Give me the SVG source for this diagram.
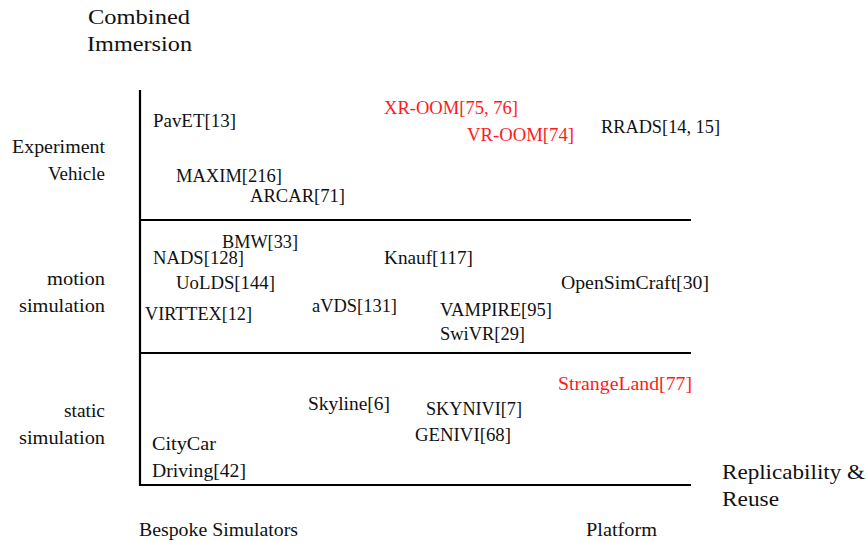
<svg xmlns="http://www.w3.org/2000/svg" width="867" height="542" viewBox="0 0 867 542">
<style>
text{font-family:"Liberation Serif","DejaVu Serif",serif;font-size:18px;fill:#111}
.r{fill:#ff1a1a}
.big{font-size:21px}
.ax{stroke:#000;stroke-width:2.2;fill:none}
.e{text-anchor:end}
</style>
<rect width="867" height="542" fill="#fff"/>
<g id="axes">
<line class="ax" x1="140" y1="90" x2="140" y2="486"/>
<line class="ax" x1="139" y1="220" x2="691" y2="220"/>
<line class="ax" x1="139" y1="353" x2="691" y2="353"/>
<line class="ax" x1="139" y1="485" x2="691" y2="485"/>
</g>
<g id="axis-labels">
<text class="big" x="88" y="24" textLength="102" lengthAdjust="spacingAndGlyphs">Combined</text>
<text class="big" x="87" y="51" textLength="105" lengthAdjust="spacingAndGlyphs">Immersion</text>
<text class="big" x="722" y="479" textLength="143" lengthAdjust="spacingAndGlyphs">Replicability &amp;</text>
<text class="big" x="722" y="506" textLength="57" lengthAdjust="spacingAndGlyphs">Reuse</text>
<text x="139" y="536" textLength="159" lengthAdjust="spacingAndGlyphs">Bespoke Simulators</text>
<text x="586" y="536" textLength="71" lengthAdjust="spacingAndGlyphs">Platform</text>
<text x="12" y="153" textLength="93" lengthAdjust="spacingAndGlyphs">Experiment</text>
<text x="48" y="180" textLength="57" lengthAdjust="spacingAndGlyphs">Vehicle</text>
<text x="47" y="285" textLength="58" lengthAdjust="spacingAndGlyphs">motion</text>
<text x="19" y="312" textLength="86" lengthAdjust="spacingAndGlyphs">simulation</text>
<text x="64" y="417" textLength="41" lengthAdjust="spacingAndGlyphs">static</text>
<text x="19" y="444" textLength="86" lengthAdjust="spacingAndGlyphs">simulation</text>
</g>
<g id="n-pavet"><text x="153" y="127" textLength="83" lengthAdjust="spacingAndGlyphs">PavET[13]</text></g>
<g id="n-maxim"><text x="176" y="182" textLength="106" lengthAdjust="spacingAndGlyphs">MAXIM[216]</text></g>
<g id="n-arcar"><text x="250" y="202" textLength="95" lengthAdjust="spacingAndGlyphs">ARCAR[71]</text></g>
<g id="n-xroom"><text class="r" x="384" y="114" textLength="134" lengthAdjust="spacingAndGlyphs">XR-OOM[75, 76]</text></g>
<g id="n-vroom"><text class="r" x="467" y="141" textLength="107" lengthAdjust="spacingAndGlyphs">VR-OOM[74]</text></g>
<g id="n-rrads"><text x="601" y="133" textLength="119" lengthAdjust="spacingAndGlyphs">RRADS[14, 15]</text></g>
<g id="n-bmw"><text x="222" y="248" textLength="76" lengthAdjust="spacingAndGlyphs">BMW[33]</text></g>
<g id="n-nads"><text x="153" y="264" textLength="91" lengthAdjust="spacingAndGlyphs">NADS[128]</text></g>
<g id="n-knauf"><text x="384" y="264" textLength="89" lengthAdjust="spacingAndGlyphs">Knauf[117]</text></g>
<g id="n-uolds"><text x="176" y="289" textLength="99" lengthAdjust="spacingAndGlyphs">UoLDS[144]</text></g>
<g id="n-opensimcraft"><text x="561" y="289" textLength="148" lengthAdjust="spacingAndGlyphs">OpenSimCraft[30]</text></g>
<g id="n-virttex"><text x="145" y="320" textLength="107" lengthAdjust="spacingAndGlyphs">VIRTTEX[12]</text></g>
<g id="n-avds"><text x="312" y="312" textLength="85" lengthAdjust="spacingAndGlyphs">aVDS[131]</text></g>
<g id="n-vampire"><text x="440" y="316" textLength="112" lengthAdjust="spacingAndGlyphs">VAMPIRE[95]</text></g>
<g id="n-swivr"><text x="440" y="340" textLength="85" lengthAdjust="spacingAndGlyphs">SwiVR[29]</text></g>
<g id="n-strangeland"><text class="r" x="558" y="390" textLength="134" lengthAdjust="spacingAndGlyphs">StrangeLand[77]</text></g>
<g id="n-skyline"><text x="308" y="410" textLength="82" lengthAdjust="spacingAndGlyphs">Skyline[6]</text></g>
<g id="n-skynivi"><text x="426" y="415" textLength="96" lengthAdjust="spacingAndGlyphs">SKYNIVI[7]</text></g>
<g id="n-genivi"><text x="415" y="441" textLength="96" lengthAdjust="spacingAndGlyphs">GENIVI[68]</text></g>
<g id="n-citycar"><text x="152" y="450" textLength="64" lengthAdjust="spacingAndGlyphs">CityCar</text><text x="152" y="477" textLength="94" lengthAdjust="spacingAndGlyphs">Driving[42]</text></g>
</svg>
